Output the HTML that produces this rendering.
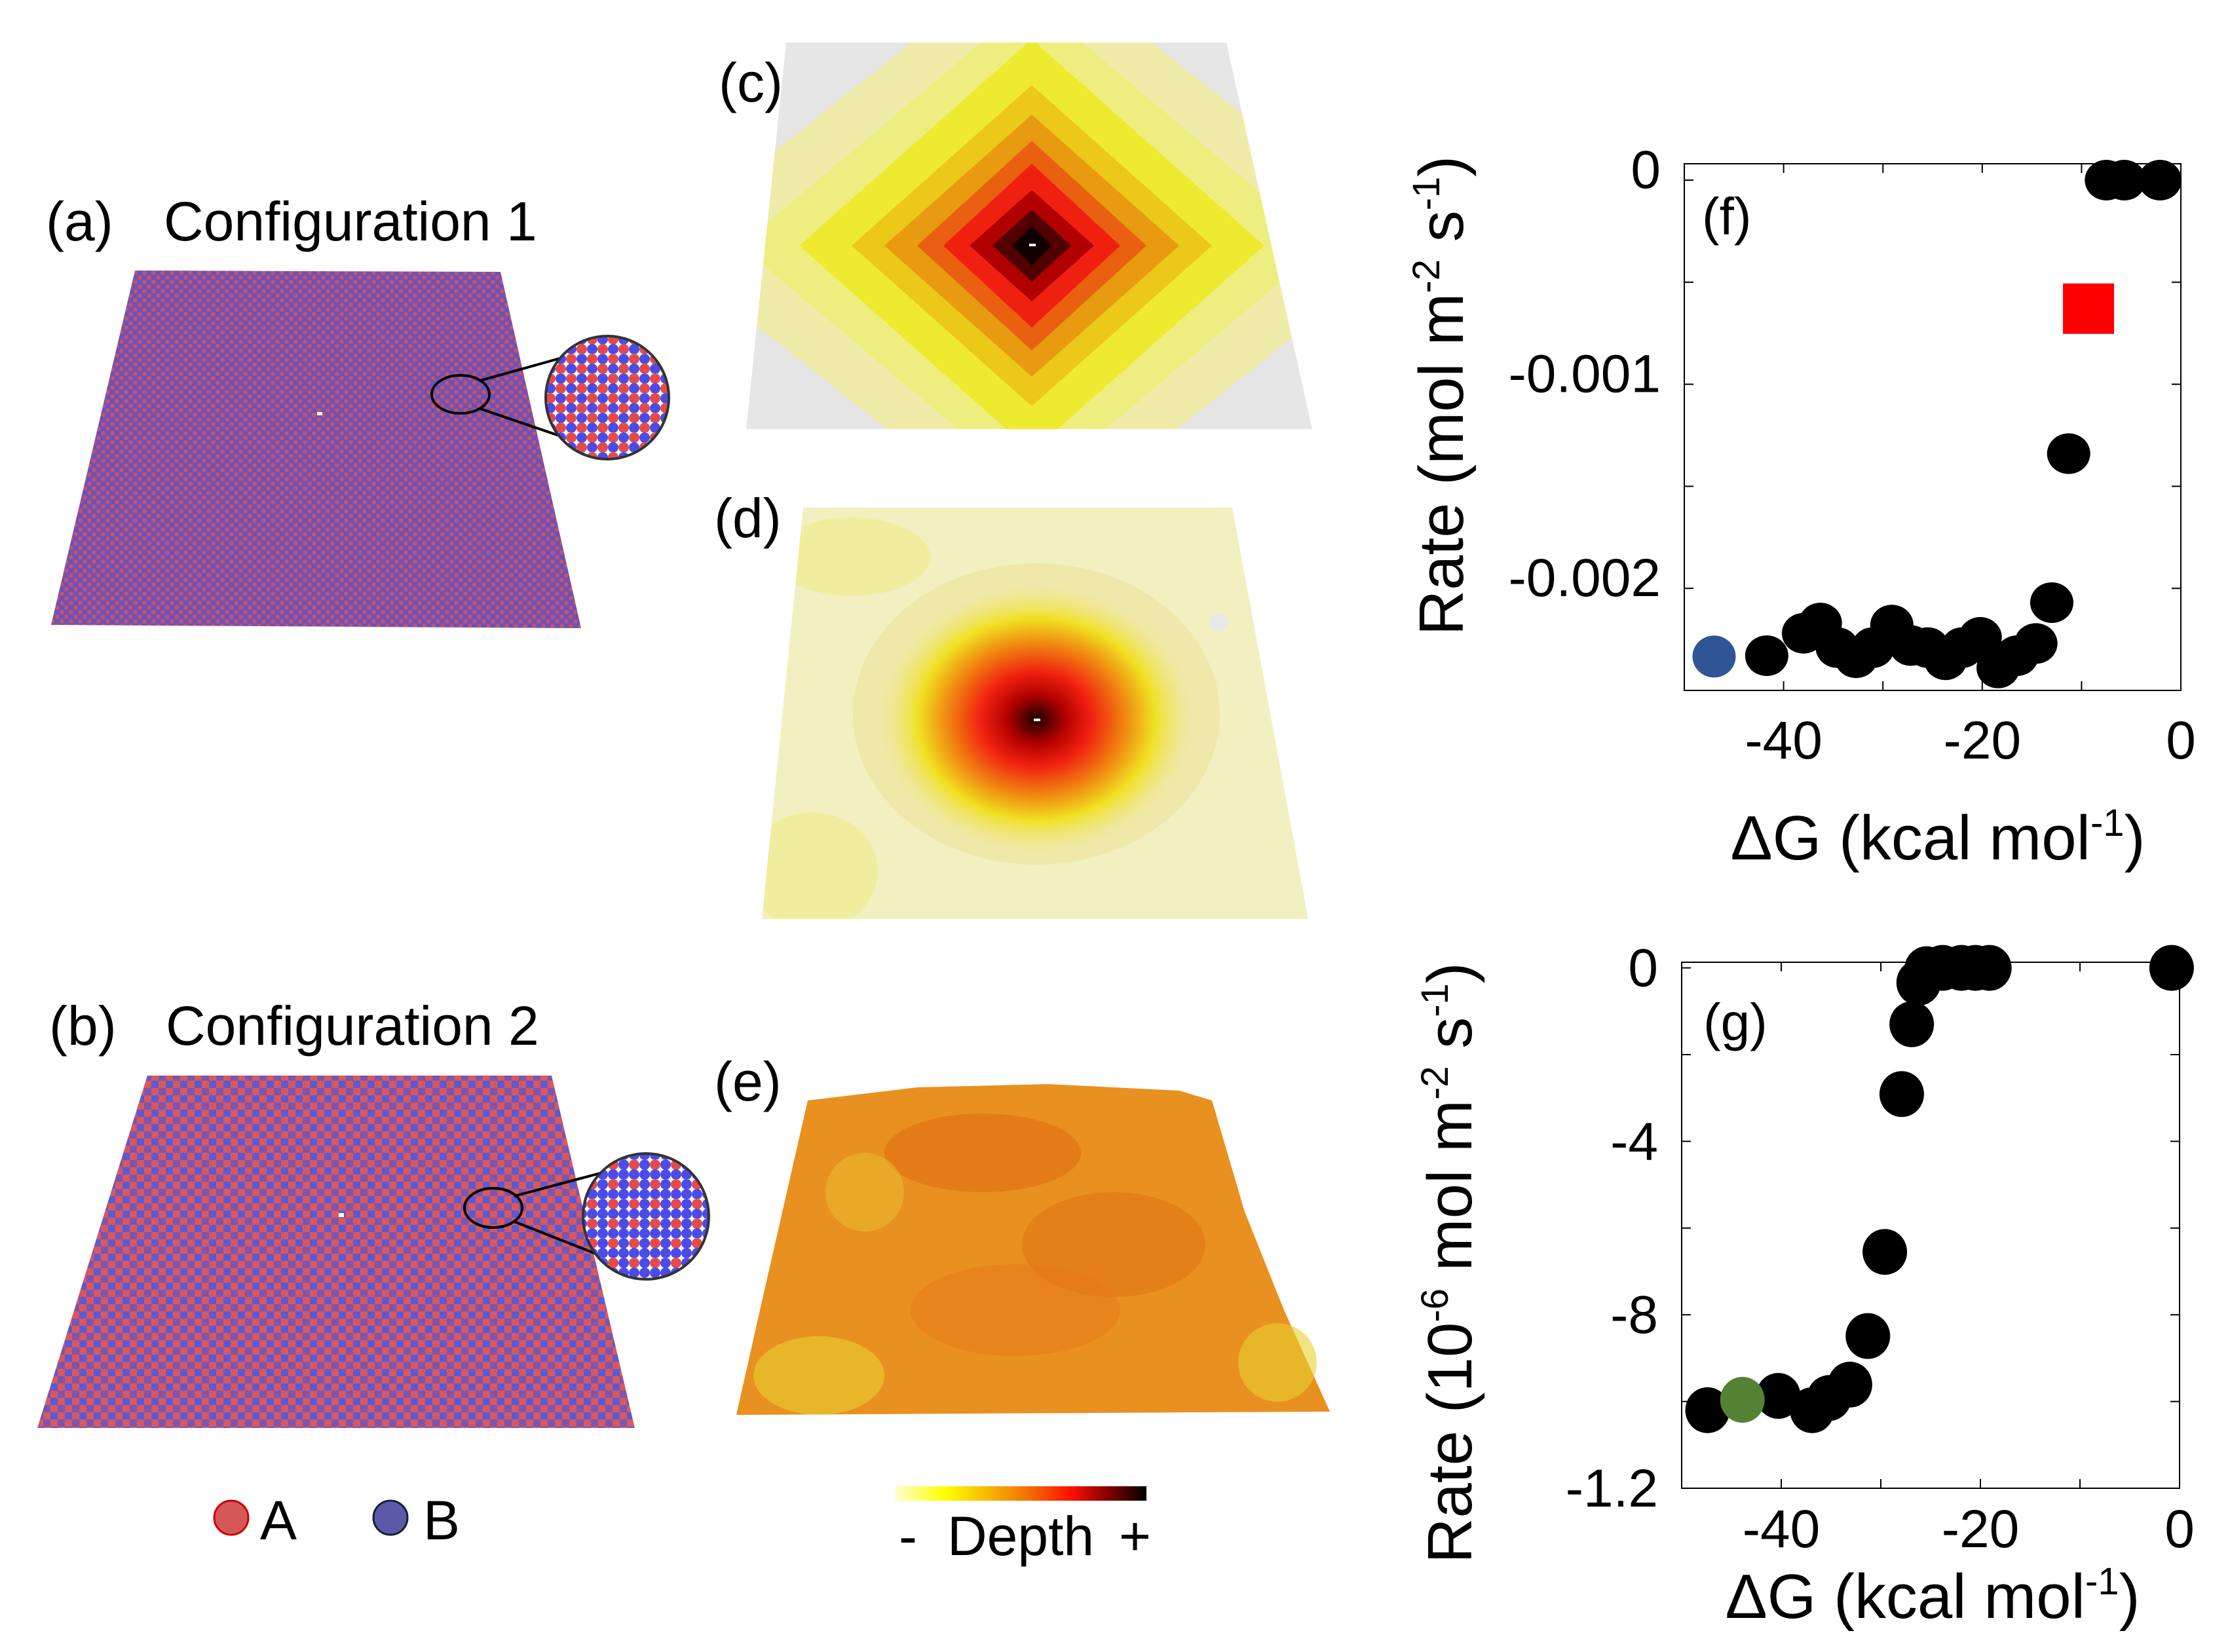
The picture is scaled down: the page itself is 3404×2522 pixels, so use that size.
<!DOCTYPE html>
<html><head><meta charset="utf-8"><style>
html,body{margin:0;padding:0;background:#fff;overflow:hidden;width:3404px;height:2522px;}
svg{display:block;font-family:"Liberation Sans",Arial,sans-serif;}
</style></head><body>
<svg id="fig" width="3404" height="2522" viewBox="0 0 3404 2522" xmlns="http://www.w3.org/2000/svg">
<defs>
<pattern id="p1" width="14" height="14" patternUnits="userSpaceOnUse">
<rect width="14" height="14" fill="#7a4fa8"/><circle cx="3.5" cy="3.5" r="3.2" fill="#d0505a"/><circle cx="10.5" cy="10.5" r="3.2" fill="#d0505a"/><circle cx="10.5" cy="3.5" r="3.2" fill="#5a55d0"/><circle cx="3.5" cy="10.5" r="3.2" fill="#5a55d0"/>
</pattern>
<pattern id="p2" width="22" height="22" patternUnits="userSpaceOnUse">
<rect width="22" height="22" fill="#c05070"/><rect x="0" y="0" width="11" height="11" fill="#d9585c"/><rect x="11" y="11" width="11" height="11" fill="#d9585c"/><rect x="11" y="0" width="11" height="11" fill="#5a5ad6"/><rect x="0" y="11" width="11" height="11" fill="#7b55b0"/>
</pattern>
<pattern id="zoom1" width="32" height="30" patternUnits="userSpaceOnUse">
<rect width="32" height="30" fill="#fff"/><ellipse cx="8" cy="8" rx="8" ry="8" fill="#e54a4a"/><ellipse cx="24" cy="8" rx="8" ry="8" fill="#4b4be8"/><ellipse cx="8" cy="23" rx="8" ry="8" fill="#4b4be8"/><ellipse cx="24" cy="23" rx="8" ry="8" fill="#e54a4a"/>
</pattern>
<pattern id="zoom2" width="32" height="30" patternUnits="userSpaceOnUse">
<rect width="32" height="30" fill="#fff"/><ellipse cx="8" cy="8" rx="8" ry="8" fill="#e54a4a"/><ellipse cx="24" cy="8" rx="8" ry="8" fill="#4b4be8"/><ellipse cx="8" cy="23" rx="8" ry="8" fill="#4b4be8"/><ellipse cx="24" cy="23" rx="8" ry="8" fill="#4b4be8"/>
</pattern>
<linearGradient id="cbar" x1="0" x2="1" y1="0" y2="0">
<stop offset="0" stop-color="#ffffd0"/><stop offset="0.2" stop-color="#ffff00"/><stop offset="0.5" stop-color="#f08000"/><stop offset="0.7" stop-color="#ff1000"/><stop offset="0.85" stop-color="#800000"/><stop offset="1" stop-color="#000"/>
</linearGradient>
<radialGradient id="dgrad" cx="0.5" cy="0.5" r="0.5">
<stop offset="0" stop-color="#1a0000"/><stop offset="0.18" stop-color="#b00000"/><stop offset="0.35" stop-color="#f02010"/><stop offset="0.55" stop-color="#f08010"/><stop offset="0.75" stop-color="#f0e020"/><stop offset="1" stop-color="#f0e880" stop-opacity="0"/>
</radialGradient>
<clipPath id="clipc"><polygon points="1200,65 1872,65 2003,655 1139,655"/></clipPath>
<clipPath id="clipd"><polygon points="1226,775 1881,775 1997,1403 1163,1403"/></clipPath>
<clipPath id="clipz1"><circle cx="927" cy="607" r="94"/></clipPath>
<clipPath id="clipz2"><circle cx="986" cy="1857" r="96"/></clipPath>
</defs>

<!-- Panel a -->
<text x="70" y="367" font-size="84">(a)</text>
<text x="250" y="367" font-size="84">Configuration 1</text>
<polygon points="206,413 764,415 887,959 78,954" fill="url(#p1)"/>
<rect x="484" y="629" width="8" height="5" fill="#fff"/>
<ellipse cx="703" cy="602" rx="44" ry="29" fill="none" stroke="#000" stroke-width="4"/>
<line x1="733" y1="581" x2="880" y2="540" stroke="#000" stroke-width="4"/>
<line x1="733" y1="624" x2="868" y2="670" stroke="#000" stroke-width="4"/>
<g clip-path="url(#clipz1)"><rect x="830" y="510" width="200" height="200" fill="url(#zoom1)"/></g>
<circle cx="927" cy="607" r="94" fill="none" stroke="#333" stroke-width="4"/>

<!-- Panel b -->
<text x="75" y="1595" font-size="84">(b)</text>
<text x="253" y="1595" font-size="84">Configuration 2</text>
<polygon points="225,1642 842,1642 969,2180 57,2180" fill="url(#p2)"/>
<rect x="517" y="1852" width="8" height="6" fill="#fff"/>
<ellipse cx="753" cy="1844" rx="44" ry="30" fill="none" stroke="#000" stroke-width="4"/>
<line x1="785" y1="1826" x2="920" y2="1790" stroke="#000" stroke-width="4"/>
<line x1="785" y1="1865" x2="925" y2="1920" stroke="#000" stroke-width="4"/>
<g clip-path="url(#clipz2)"><rect x="888" y="1760" width="200" height="200" fill="url(#zoom2)"/></g>
<circle cx="986" cy="1857" r="96" fill="none" stroke="#333" stroke-width="4"/>

<!-- legend A/B -->
<circle cx="353" cy="2317" r="26" fill="#d55858" stroke="#c00" stroke-width="3"/>
<text x="397" y="2350" font-size="84">A</text>
<circle cx="596" cy="2317" r="26" fill="#5a5aa8" stroke="#123" stroke-width="3"/>
<text x="646" y="2350" font-size="84">B</text>

<!-- Panel c -->
<text x="1097" y="155" font-size="84">(c)</text>
<g clip-path="url(#clipc)">
<rect x="1100" y="60" width="950" height="600" fill="#e6e6e6"/>
<polygon points="1575,-80 2150,375 1575,830 1000,375" fill="#eeeca8"/>
<polygon points="1575,0 2020,375 1575,750 1130,375" fill="#eeee80"/>
<polygon points="1575,60 1930,375 1575,690 1220,375" fill="#eeea30"/>
<polygon points="1575,130 1850,375 1575,620 1300,375" fill="#ecc818"/>
<polygon points="1575,175 1800,375 1575,575 1350,375" fill="#e89a10"/>
<polygon points="1575,215 1750,375 1575,535 1400,375" fill="#e86010"/>
<polygon points="1575,250 1710,375 1575,500 1440,375" fill="#f02010"/>
<polygon points="1575,290 1670,375 1575,460 1480,375" fill="#b00000"/>
<polygon points="1575,320 1635,375 1575,430 1515,375" fill="#500000"/>
<polygon points="1575,345 1605,375 1575,405 1545,375" fill="#100000"/>
<rect x="1571" y="372" width="10" height="4" fill="#fff"/>
</g>

<!-- Panel d -->
<text x="1090" y="820" font-size="84">(d)</text>
<g clip-path="url(#clipd)">
<rect x="1150" y="770" width="860" height="640" fill="#f2f0c0"/>
<ellipse cx="1300" cy="850" rx="120" ry="60" fill="#f0ee9e"/>
<ellipse cx="1240" cy="1330" rx="100" ry="90" fill="#f0ee9e"/>
<ellipse cx="1582" cy="1090" rx="280" ry="230" fill="#efe8a8"/>
<ellipse cx="1582" cy="1098" rx="240" ry="205" fill="url(#dgrad)"/>
<circle cx="1860" cy="950" r="14" fill="#e8e8e8"/>
<rect x="1578" y="1097" width="10" height="4" fill="#fff"/>
</g>

<!-- Panel e -->
<text x="1090" y="1680" font-size="84">(e)</text>
<g>
<polygon points="1233,1680 1400,1660 1600,1655 1800,1665 1850,1680 1900,1850 1960,2000 2030,2155 1124,2160 1160,2000" fill="#e89020"/>
<ellipse cx="1500" cy="1760" rx="150" ry="60" fill="#e07010" opacity="0.6"/>
<ellipse cx="1700" cy="1900" rx="140" ry="80" fill="#e07010" opacity="0.5"/>
<ellipse cx="1550" cy="2000" rx="160" ry="70" fill="#e87818" opacity="0.5"/>
<ellipse cx="1250" cy="2100" rx="100" ry="60" fill="#e8d030" opacity="0.6"/>
<ellipse cx="1950" cy="2080" rx="60" ry="60" fill="#e8d030" opacity="0.6"/>
<ellipse cx="1320" cy="1820" rx="60" ry="60" fill="#e8c030" opacity="0.5"/>
</g>

<!-- colorbar -->
<rect x="1366" y="2269" width="384" height="22" fill="url(#cbar)"/>
<text x="1372" y="2374" font-size="84">-</text>
<text x="1446" y="2374" font-size="84">Depth</text>
<text x="1708" y="2374" font-size="84">+</text>

<g id="chartF"></g>
<g id="chartG"></g>
</svg>
<script>
const fX = [-41.7,-38.0,-36.3,-34.6,-32.7,-31.0,-29.1,-27.2,-25.5,-23.7,-22.0,-20.2,-18.4,-16.5,-14.6,-13.0,-11.3,-7.5,-5.7,-2.1];
const fY = [-0.00233,-0.00222,-0.00217,-0.00229,-0.00234,-0.00229,-0.00218,-0.00228,-0.00229,-0.00235,-0.00229,-0.00224,-0.00239,-0.00233,-0.00227,-0.00207,-0.00134,0,0,0];
const fBlueX = [-47.0];
const fBlueY = [-0.002334];
const fRedX = [-9.3];
const fRedY = [-0.000628];
const fXTicks = [-40,-20,0];
const fXTickLabels = ["-40","-20","0"];
const fYTicks = [0,-0.001,-0.002];
const fYTickLabels = ["0","-0.001","-0.002"];

const gX = [-47.4,-40.3,-36.9,-35.2,-33.1,-31.3,-29.6,-27.9,-26.9,-26.2,-25.4,-23.8,-21.9,-20.5,-19.1,-0.8];
const gY = [-10.2,-9.87,-10.2,-9.92,-9.61,-8.49,-6.55,-2.91,-1.30,-0.34,-0.03,0,0,0,0,0];
const gGreenX = [-43.9];
const gGreenY = [-9.96];
const gXTicks = [-40,-20,0];
const gXTickLabels = ["-40","-20","0"];
const gYTicks = [0,-4,-8,-12];
const gYTickLabels = ["0","-4","-8","-1.2"];

const NS = "http://www.w3.org/2000/svg";
function mk(parent, tag, attrs, txt){
  const e = document.createElementNS(NS, tag);
  for (const k in attrs) e.setAttribute(k, attrs[k]);
  if (txt !== undefined) e.textContent = txt;
  parent.appendChild(e); return e;
}
function drawAxes(g, L, R, T, B, sx, sy, xt, xtl, yt, ytl, minorX, minorY, xLabY, yLabOff){
  const frame = mk(g,'rect',{x:L,y:T,width:R-L,height:B-T,fill:'none',stroke:'#000','stroke-width':2});
  
  
  minorX.forEach(v=>{
    const x = sx(v);
    mk(g,'line',{x1:x,y1:B,x2:x,y2:B-14,stroke:'#000','stroke-width':2});
    mk(g,'line',{x1:x,y1:T,x2:x,y2:T+14,stroke:'#000','stroke-width':2});
  });
  minorY.forEach(v=>{
    const y = sy(v);
    mk(g,'line',{x1:L,y1:y,x2:L+14,y2:y,stroke:'#000','stroke-width':2});
    mk(g,'line',{x1:R,y1:y,x2:R-14,y2:y,stroke:'#000','stroke-width':2});
  });
  xt.forEach((v,i)=>{
    const t = mk(g,'text',{x:sx(v),y:xLabY,'font-size':82,'text-anchor':'middle'},xtl[i]);
    
    
  });
  yt.forEach((v,i)=>{
    const t = mk(g,'text',{x:L-36,y:sy(v)+yLabOff,'font-size':82,'text-anchor':'end'},ytl[i]);
    
    
  });
}
// Chart f
(function(){
  const g = document.getElementById('chartF');
  const L=2571,R=3329,T=250,B=1054;
  const sx = v => L + (v+50)/50*(R-L);
  const sy = v => T + (0.0000803 - v)/(0.0000803+0.0025)*(B-T);
  drawAxes(g,L,R,T,B,sx,sy,fXTicks,fXTickLabels,fYTicks,fYTickLabels,[-40,-30,-20,-10],[0,-0.0005,-0.001,-0.0015,-0.002],1158,12);
  fX.forEach((v,i)=>{
    const c = mk(g,'ellipse',{cx:sx(v),cy:sy(fY[i]),rx:33,ry:31,fill:'#000'});
    
    
  });
  fBlueX.forEach((v,i)=>{
    const c = mk(g,'ellipse',{cx:sx(v),cy:sy(fBlueY[i]),rx:33,ry:32,fill:'#2f5597'});
    
    
  });
  fRedX.forEach((v,i)=>{
    const c = mk(g,'rect',{x:sx(v)-39,y:sy(fRedY[i])-38,width:78,height:77,fill:'#ff0000'});
    
    
  });
  const lab = mk(g,'text',{x:2598,y:358,'font-size':80},'(f)');
  
  
  const yt = mk(g,'text',{x:0,y:0,'font-size':96,'text-anchor':'middle',transform:'translate(2233,604) rotate(-90)'});
  
  
  yt.innerHTML = 'Rate (mol m<tspan dy="-36" font-size="58">-2</tspan><tspan dy="36"> s</tspan><tspan dy="-36" font-size="58">-1</tspan><tspan dy="36">)</tspan>';
  const xtt = mk(g,'text',{x:2958,y:1312,'font-size':96,'text-anchor':'middle'});
  
  
  xtt.innerHTML = 'ΔG (kcal mol<tspan dy="-36" font-size="58">-1</tspan><tspan dy="36">)</tspan>';
})();
// Chart g
(function(){
  const g = document.getElementById('chartG');
  const L=2567,R=3327,T=1469,B=2272;
  const sx = v => L + (v+50)/50*(R-L);
  const sy = v => T + (0.13 - v)/(12.13)*(B-T);
  drawAxes(g,L,R,T,B,sx,sy,gXTicks,gXTickLabels,gYTicks,gYTickLabels,[-40,-30,-20,-10],[0,-2,-4,-6,-8,-10],2362,28);
  gX.forEach((v,i)=>{
    const c = mk(g,'ellipse',{cx:sx(v),cy:sy(gY[i]),rx:34,ry:35,fill:'#000'});
    
    
  });
  gGreenX.forEach((v,i)=>{
    const c = mk(g,'ellipse',{cx:sx(v),cy:sy(gGreenY[i]),rx:34,ry:35,fill:'#548235'});
    
    
  });
  const lab = mk(g,'text',{x:2600,y:1588,'font-size':80},'(g)');
  
  
  const yt = mk(g,'text',{x:0,y:0,'font-size':96,'text-anchor':'middle',transform:'translate(2246,1928) rotate(-90)'});
  
  
  yt.innerHTML = 'Rate (10<tspan dy="-36" font-size="58">-6</tspan><tspan dy="36"> mol m</tspan><tspan dy="-36" font-size="58">-2</tspan><tspan dy="36"> s</tspan><tspan dy="-36" font-size="58">-1</tspan><tspan dy="36">)</tspan>';
  const xtt = mk(g,'text',{x:2950,y:2470,'font-size':96,'text-anchor':'middle'});
  
  
  xtt.innerHTML = 'ΔG (kcal mol<tspan dy="-36" font-size="58">-1</tspan><tspan dy="36">)</tspan>';
})();
</script>
</body></html>
